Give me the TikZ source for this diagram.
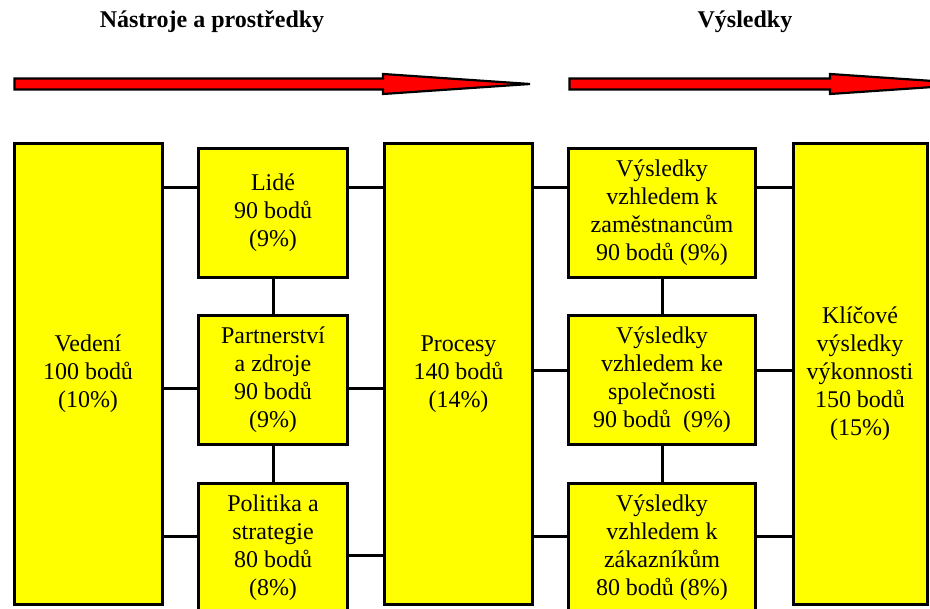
\documentclass[tikz,border=0pt]{standalone}
\usepackage{fontspec}
\setmainfont{Liberation Serif}
\definecolor{boxyellow}{RGB}{255,255,0}
\definecolor{flowred}{RGB}{255,0,0}
\begin{document}
\begin{tikzpicture}[x=1pt,y=-1pt,
  box/.style={draw=black, line width=3pt, fill=boxyellow, align=center,
    inner sep=0pt, font=\fontsize{24}{28}\selectfont},
  tall/.style={box, minimum height=461pt},
  small/.style={box, minimum height=129pt},
  link/.style={draw=black, line width=3pt},
  flow/.style={draw=black, line width=2.2pt, fill=flowred, line join=miter},
  heading/.style={font=\bfseries\fontsize{24}{28}\selectfont}]
\useasboundingbox (0,0) rectangle (930,609);
\clip (0,0) rectangle (930,609);
\fill[white] (0,0) rectangle (930,609);

% headings and flow arrows
\node[heading] (hleft) at (212,22) {Nástroje a prostředky};
\node[heading] (hright) at (745,22) {Výsledky};
\filldraw[flow] (14.5,78.5) -- (383,78.5) -- (383,74) -- (530,84) -- (383,94)
  -- (383,89.5) -- (14.5,89.5) -- cycle;
\filldraw[flow] (569.5,78.5) -- (830,78.5) -- (830,74) -- (977,84) -- (830,94)
  -- (830,89.5) -- (569.5,89.5) -- cycle;

% criteria boxes
\node[tall, minimum width=148pt] (vedeni) at (88,374) {Vedení\\100 bodů\\(10\%)};
\node[small, minimum width=149pt] (lide) at (273,213) {Lidé\\90 bodů\\(9\%)};
\node[small, minimum width=149pt] (partner) at (273,380) {Partnerství\\a zdroje\\90 bodů\\(9\%)};
\node[small, minimum width=149pt] (politika) at (273,548) {Politika a\\strategie\\80 bodů\\(8\%)};
\node[tall, minimum width=148pt] (procesy) at (458.5,374) {Procesy\\140 bodů\\(14\%)};
\node[small, minimum width=187pt] (zam) at (662,213) {Výsledky\\vzhledem k\\zaměstnancům\\90 bodů (9\%)};
\node[small, minimum width=187pt] (spol) at (662,380) {Výsledky\\vzhledem ke\\společnosti\\90 bodů~ (9\%)};
\node[small, minimum width=187pt] (zak) at (662,548) {Výsledky\\vzhledem k\\zákazníkům\\80 bodů (8\%)};
\node[tall, minimum width=134pt] (klic) at (860,374) {Klíčové\\výsledky\\výkonnosti\\150 bodů\\(15\%)};

% connectors
\draw[link] (vedeni.east |- 0,188) -- (lide.west |- 0,188);
\draw[link] (vedeni.east |- 0,389) -- (partner.west |- 0,389);
\draw[link] (vedeni.east |- 0,537) -- (politika.west |- 0,537);
\draw[link] (lide.east |- 0,188) -- (procesy.west |- 0,188);
\draw[link] (partner.east |- 0,389) -- (procesy.west |- 0,389);
\draw[link] (politika.east |- 0,556) -- (procesy.west |- 0,556);
\draw[link] (lide.south) -- (partner.north);
\draw[link] (partner.south) -- (politika.north);
\draw[link] (procesy.east |- 0,188) -- (zam.west |- 0,188);
\draw[link] (procesy.east |- 0,371) -- (spol.west |- 0,371);
\draw[link] (procesy.east |- 0,537) -- (zak.west |- 0,537);
\draw[link] (zam.east |- 0,188) -- (klic.west |- 0,188);
\draw[link] (spol.east |- 0,371) -- (klic.west |- 0,371);
\draw[link] (zak.east |- 0,537) -- (klic.west |- 0,537);
\draw[link] (zam.south) -- (spol.north);
\draw[link] (spol.south) -- (zak.north);
\end{tikzpicture}
\end{document}
